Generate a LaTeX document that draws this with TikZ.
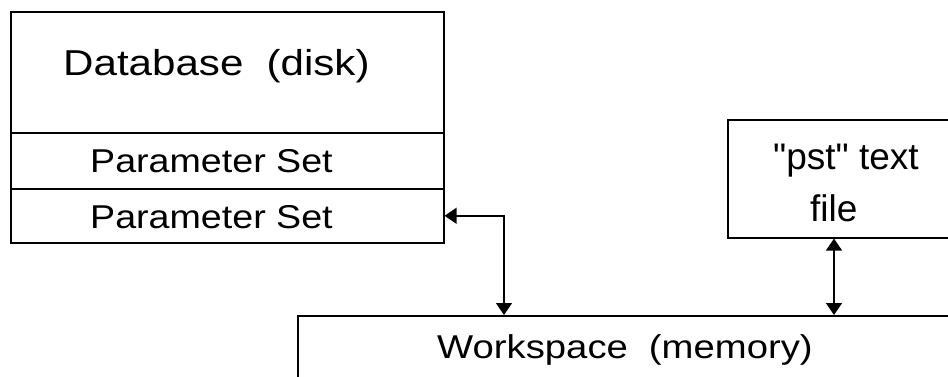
\documentclass[tikz,border=0pt]{standalone}
\usepackage{fontspec}
\setmainfont[Ligatures=TeXOff]{Liberation Sans}
\usetikzlibrary{arrows.meta}
\newcommand\stxt[3]{\fontsize{#1}{#1}\selectfont\scalebox{#2}[1]{#3}}
\tikzset{
  box/.style={draw, line width=1.6pt, rectangle, inner sep=0pt, anchor=north west},
  lbl/.style={inner sep=0pt, anchor=base west},
  dbl/.style={line width=1.5pt, {Triangle[length=12pt,width=16pt]}-{Triangle[length=12pt,width=16pt]}}
}
\begin{document}
\begin{tikzpicture}[x=1pt,y=-1pt]
\useasboundingbox (0,0) rectangle (948,377);
\fill[white] (0,0) rectangle (948,377);
\clip (0,0) rectangle (948,377);
% Database boxes
\node[box, minimum width=433pt, minimum height=121pt] (db) at (10,11) {};
\node[box, minimum width=433pt, minimum height=56pt] (ps1) at (10,132) {};
\node[box, minimum width=433pt, minimum height=54pt] (ps2) at (10,188) {};
\node[lbl] (dbt) at (63,76) {\stxt{36}{1.17}{Database\hspace{0.55em}(disk)}};
\node[lbl] (ps1t) at (90,172) {\stxt{33}{1.14}{Parameter Set}};
\node[lbl] (ps2t) at (90,228) {\stxt{33}{1.14}{Parameter Set}};
% pst box
\node[box, minimum width=240pt, minimum height=118pt] (pst) at (727,119) {};
\node[lbl] (pstt1) at (773,170) {\stxt{37}{1.0}{"pst" text}};
\node[lbl] (pstt2) at (810,222) {\stxt{37}{1.0}{file}};
% workspace box
\node[box, minimum width=700pt, minimum height=120pt] (ws) at (297,315) {};
\node[lbl] (wst) at (437,358) {\stxt{33}{1.16}{Workspace\hspace{0.55em}(memory)}};
% connectors
\draw[dbl] (ps2.east) -| ([xshift=207pt]ws.north west);
\draw[dbl] ([xshift=107pt]pst.south west) -- ([xshift=537pt]ws.north west);
\end{tikzpicture}
\end{document}
